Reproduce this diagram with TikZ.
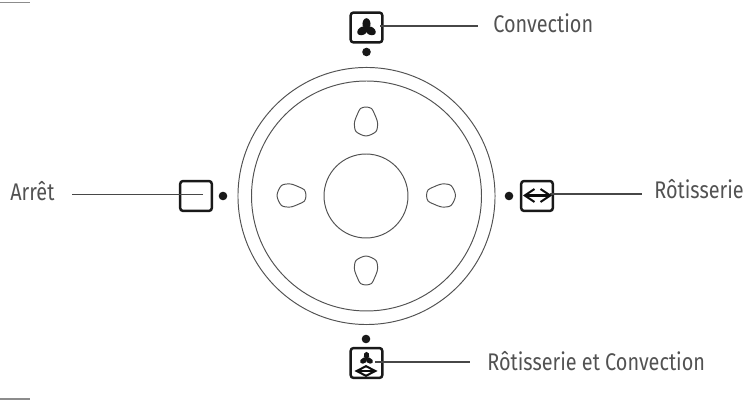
\documentclass[tikz,border=0pt]{standalone}
\usepackage{fontspec}
\setmainfont{Fira Sans}[FakeStretch=0.825]
\usetikzlibrary{arrows.meta}
\tikzset{
  iconbox/.style={draw=black!90, line width=1.4pt, rounded corners=1.6pt, minimum width=18pt, minimum height=17pt, inner sep=0pt},
  selectdot/.style={circle, fill=black!90, minimum size=4.9pt, inner sep=0pt},
  lbl/.style={inner sep=0pt, anchor=base west, font=\fontsize{13.7pt}{16pt}\selectfont, text=black!68},
  leader/.style={draw=black!72, line width=0.85pt},
  ring/.style={draw=black!68, line width=0.55pt},
  swing/.style n args={2}{draw=black!95, line width=1.15pt, {Straight Barb[length=#1,width=#2]}-{Straight Barb[length=#1,width=#2]}},
}
\newcommand{\fanblades}[3]{%
  \foreach \bladeangle in {0,120,240}
    \fill[black!92, shift={(#1,#2)}, rotate=\bladeangle, scale=#3]
      (0,1) .. controls (-4,-0.5) and (-5,-4.5) .. (-3.2,-8) .. controls (-1.5,-11) and (1.5,-11) .. (3.2,-8) .. controls (5,-4.5) and (4,-0.5) .. (0,1) -- cycle;
}
\begin{document}
\begin{tikzpicture}[x=0.02cm, y=-0.02cm]
  \useasboundingbox (0,0) rectangle (744,401);
  \draw[leader, draw=black!45] (0,2.5) -- (30,2.5);
  \draw[leader, draw=black!45] (0,399) -- (30,399);
  % dial
  \node[circle, ring, minimum size=146.3pt, inner sep=0pt] (outerring) at (366.5,196) {};
  \node[circle, ring, minimum size=130.9pt, inner sep=0pt] (innerring) at (366.5,196) {};
  \node[circle, ring, minimum size=47.8pt, inner sep=0pt] (hub) at (366,196) {};
  \foreach \knobx/\knoby/\knobrot in {366/121.5/0, 441/195.5/90, 366/270.5/180, 291.5/195.5/270}
    \draw[ring, shift={(\knobx,\knoby)}, rotate=\knobrot] plot[smooth cycle] coordinates {(0,-14.5) (5.5,-13) (8.5,-7.5) (11.5,1) (10,10) (0,14.5) (-10,10) (-11.5,1) (-8.5,-7.5) (-5.5,-13)};
  % positions
  \node[iconbox] (boxconv) at (366.5,27.5) {};
  \node[iconbox] (boxrot) at (537,196) {};
  \node[iconbox] (boxboth) at (366.5,363) {};
  \node[iconbox] (boxoff) at (196,196) {};
  \node[selectdot] (dotconv) at (366.5,52) {};
  \node[selectdot] (dotrot) at (509,196) {};
  \node[selectdot] (dotboth) at (366,339) {};
  \node[selectdot] (dotoff) at (223,196) {};
  \node[lbl] (lblconv) at (493,32.5) {Convection};
  \node[lbl] (lblrot) at (654,199) {Rôtisserie};
  \node[lbl] (lblboth) at (487,371) {Rôtisserie et Convection};
  \node[lbl] (lbloff) at (10,200.5) {Arrêt};
  \coordinate (endconv) at (478,26);
  \coordinate (endrot) at (642,194);
  \coordinate (endboth) at (470,362);
  \coordinate (endoff) at (72,194.5);
  \coordinate (inconv) at (380,26);
  \coordinate (inrot) at (550,194);
  \coordinate (inboth) at (375,362);
  \coordinate (inoff) at (203,194.5);
  \foreach \source/\dest in {inconv/endconv, inrot/endrot, inboth/endboth, inoff/endoff}
    \draw[leader] (\source) -- (\dest);
  % icons
  \fanblades{366.5}{28.5}{1}
  \fanblades{366.5}{359}{0.7}
  \coordinate (rotleft) at (523,195.5);
  \coordinate (rotright) at (552,195.5);
  \coordinate (bothleft) at (354.5,371);
  \coordinate (bothright) at (377.5,371);
  \draw[swing={5.5pt}{7.4pt}] (rotleft) -- (rotright);
  \draw[swing={5.5pt}{5.7pt}] (bothleft) -- (bothright);
\end{tikzpicture}
\end{document}
